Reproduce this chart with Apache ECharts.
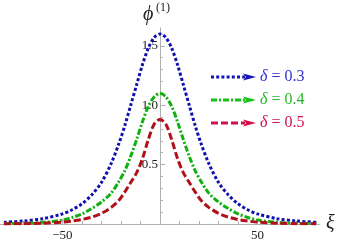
<!DOCTYPE html>
<html><head><meta charset="utf-8">
<script src="https://cdn.jsdelivr.net/npm/echarts@6/dist/echarts.min.js"></script>
<style>html,body{margin:0;padding:0;background:#fff}#c{width:338px;height:243px}</style>
</head><body><div id="c"></div>
<script>
const xi = [-80,-70,-60,-50,-45,-40,-35,-30,-25,-21,-18,-15,-12,-9,-6,-3,0,3,6,9,12,15,18,21,25,30,35,40,45,50,60,70,80];
const phiDelta03 = [0.014,0.025,0.045,0.085,0.12,0.17,0.245,0.35,0.51,0.68,0.83,1.00,1.17,1.34,1.48,1.57,1.60,1.57,1.48,1.34,1.17,1.00,0.83,0.68,0.51,0.35,0.245,0.17,0.12,0.085,0.045,0.025,0.014];
const phiDelta04 = [0.003,0.006,0.014,0.033,0.055,0.085,0.13,0.185,0.26,0.36,0.45,0.57,0.71,0.86,0.99,1.07,1.10,1.07,0.99,0.86,0.71,0.57,0.45,0.36,0.26,0.185,0.13,0.085,0.055,0.033,0.014,0.006,0.003];
const phiDelta05 = [0.001,0.003,0.007,0.016,0.025,0.038,0.058,0.09,0.14,0.20,0.27,0.35,0.43,0.55,0.71,0.84,0.88,0.84,0.71,0.55,0.43,0.35,0.27,0.20,0.14,0.09,0.058,0.038,0.025,0.016,0.007,0.003,0.001];
const seriesNames = ['δ = 0.3','δ = 0.4','δ = 0.5'];
const deltaValues = ['0.3','0.4','0.5'];
const xMinorTicks = [-80,-70,-60,-50,-40,-30,-20,-10,10,20,30,40,50,60,70,80];
const xTickLabels = [-50,50];
const yMinorTicks = [0.1,0.2,0.3,0.4,0.5,0.6,0.7,0.8,0.9,1.0,1.1,1.2,1.3,1.4,1.5,1.6];
const yTickLabels = [0.5,1.0,1.5];

const curveColors = ['#1010b0','#10b010','#b01018'];
const legendLineColors = ['#1515b8','#18c018','#d0104a'];
const textColors = ['#3030d0','#28b828','#d01050'];
const dashes = [[3,2.2],[6,2,2,2],[7,3]];
const serif = 'Liberation Serif';
const tables = [phiDelta03, phiDelta04, phiDelta05];

const chart = echarts.init(document.getElementById('c'), null, {renderer:'canvas'});
const axisGray = '#b0b0b0';
const X_MIN = -82, X_MAX = 81.5, GRID_LEFT = 0, GRID_RIGHT = 19;
const plotW = 338 - GRID_LEFT - GRID_RIGHT;
const yAxisOffset = -(0 - X_MIN) / (X_MAX - X_MIN) * plotW;
function xAxisDef(ticks, len, labels){
  return {
    type:'value', min:X_MIN, max:X_MAX, position:'bottom',
    axisLine:{show:true, onZero:false, lineStyle:{color:axisGray, width:1}},
    axisTick:{show:true, inside:true, length:len, customValues:ticks, lineStyle:{color:axisGray}},
    axisLabel:{show:!!labels, customValues:labels||[], margin:5, fontFamily:serif, fontSize:13, color:'#222',
      formatter:v=> v<0 ? '\u2212'+Math.abs(v) : String(v)},
    splitLine:{show:false}
  };
}
function yAxisDef(ticks, len, labels){
  return {
    type:'value', min:0, max:1.65, position:'left', offset:yAxisOffset,
    axisLine:{show:true, onZero:false, lineStyle:{color:axisGray, width:1}},
    axisTick:{show:true, inside:true, length:len, customValues:ticks, lineStyle:{color:axisGray}},
    axisLabel:{show:!!labels, customValues:labels||[], margin:2, fontFamily:serif, fontSize:13, color:'#222',
      formatter:v=> v.toFixed(1)},
    splitLine:{show:false}
  };
}
const xa0 = xAxisDef(xMinorTicks, 3, xTickLabels);
xa0.name = 'ξ'; xa0.nameLocation='end'; xa0.nameGap = 7;
xa0.nameTextStyle = {fontFamily:serif, fontStyle:'italic', fontSize:20, color:'#222', verticalAlign:'middle', padding:[0,0,4,0]};
const graphics = [];
const ly = [77,100,123];
for (let i=0;i<3;i++){
  graphics.push({type:'line', shape:{x1:211,y1:ly[i],x2:245,y2:ly[i]}, style:{stroke:legendLineColors[i], lineWidth:3, lineDash:dashes[i]}});
  graphics.push({type:'polygon', shape:{points:[[243,ly[i]-3.5],[256,ly[i]],[243,ly[i]+3.5],[246,ly[i]]]}, style:{fill:legendLineColors[i]}});
  graphics.push({type:'text', x:260, y:ly[i], style:{text:'{d|δ}{r| = '+deltaValues[i]+'}', verticalAlign:'middle',
    rich:{d:{fontFamily:serif, fontStyle:'italic', fontSize:16, fill:textColors[i]}, r:{fontFamily:serif, fontSize:16, fill:textColors[i]}}}});
}
graphics.push({type:'text', x:143, y:5, style:{text:'ϕ', fontFamily:serif, fontStyle:'italic', fontSize:20, fill:'#222'}});
graphics.push({type:'text', x:156, y:2, style:{text:'(1)', fontFamily:serif, fontSize:12, fill:'#222'}});

chart.setOption({
  animation:false,
  grid:{left:GRID_LEFT, right:GRID_RIGHT, top:28, bottom:19, containLabel:false, outerBoundsMode:'none'},
  xAxis:[xa0, xAxisDef([-50,50], 5, null)],
  yAxis:[yAxisDef(yMinorTicks, 3, yTickLabels), yAxisDef([0.5,1.0,1.5], 5, null)],
  series: tables.map((t,i)=>({
    name:seriesNames[i], type:'line', xAxisIndex:0, yAxisIndex:0,
    data: xi.map((x,k)=>[x,t[k]]), smooth:0.3, showSymbol:false, symbol:'none',
    lineStyle:{color:curveColors[i], width:3, type:dashes[i], cap:'butt'}, z:2+i
  })),
  graphic: graphics
});
</script></body></html>
